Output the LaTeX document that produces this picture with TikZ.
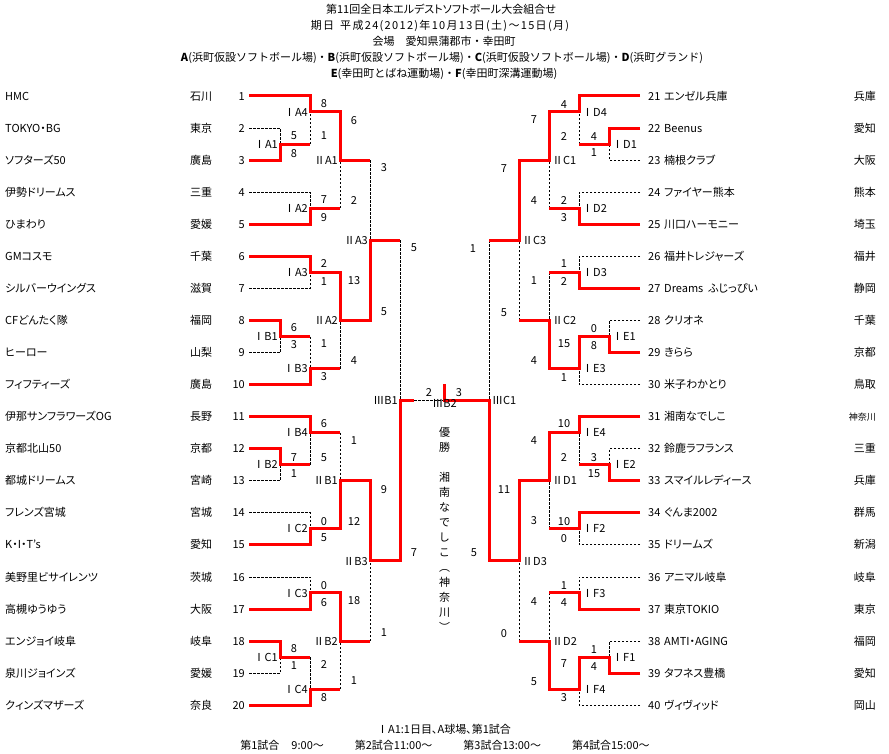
\documentclass[tikz,border=0pt]{standalone}
\usepackage{fontspec}
\setmainfont{Noto Sans CJK JP}[RawFeature=+palt]
\newfontfamily\widefont{Noto Sans CJK JP}
\newfontfamily\spacedfont{Noto Sans CJK JP}[LetterSpace=12]
\definecolor{winred}{RGB}{255,0,0}
\tikzset{
  win/.style={draw=winred, line width=3pt, line join=miter},
  lose/.style={draw=black, line width=0.8pt, dash pattern=on 2.5pt off 1.5pt},
  txt/.style={inner sep=0pt, text height=9.7pt, text depth=1.5pt, font=\fontsize{11}{13}\selectfont},
  wtxt/.style={inner sep=0pt, text height=9.7pt, text depth=1.5pt, font=\widefont\fontsize{11}{13}\selectfont},
  stxt/.style={inner sep=0pt, text height=9.7pt, text depth=1.5pt, font=\spacedfont\fontsize{11}{13}\selectfont},
  sc/.style={txt},
  lbl/.style={txt},
}
\begin{document}
\begin{tikzpicture}[x=1pt,y=-1pt]
\fill[white] (0,0) rectangle (889,754);
\useasboundingbox (0,0) rectangle (889,754);

% team line ends
\foreach \y [count=\i] in {96,128.1,160.1,192.2,224.2,256.3,288.4,320.4,352.5,384.5,416.6,448.7,480.7,512.8,544.8,576.9,609,641,673.1,705.1}{
  \coordinate (T\i) at (249,\y);
  \pgfmathtruncatemacro\j{\i+20}
  \coordinate (T\j) at (640,\y);
}
% match junctions, left
\coordinate (IA1) at (280,144.1);
\coordinate (IA4) at (310,112);
\coordinate (IA2) at (310,208.2);
\coordinate (IIA1) at (340,160.1);
\coordinate (IA3) at (310,272.3);
\coordinate (IB1) at (280,336.5);
\coordinate (IB3) at (310,368.5);
\coordinate (IIA2) at (340,320.4);
\coordinate (IIA3) at (370,240.3);
\coordinate (IB2) at (280,464.7);
\coordinate (IB4) at (310,432.6);
\coordinate (IC2) at (310,528.8);
\coordinate (IIB1) at (340,480.7);
\coordinate (IC3) at (310,592.9);
\coordinate (IC1) at (280,657);
\coordinate (IC4) at (310,689.1);
\coordinate (IIB2) at (340,641);
\coordinate (IIB3) at (370,560.9);
\coordinate (IIIB1) at (400,400.6);
\coordinate (FIN) at (444.5,400.6);
\coordinate (FL) at (414,400.6);
\coordinate (FTOP) at (444.5,384);
% right
\coordinate (ID1) at (609,144.1);
\coordinate (ID4) at (579,112);
\coordinate (ID2) at (579,208.2);
\coordinate (IIC1) at (549,160.1);
\coordinate (ID3) at (579,272.3);
\coordinate (IE1) at (609,336.5);
\coordinate (IE3) at (579,368.5);
\coordinate (IIC2) at (549,320.4);
\coordinate (IIC3) at (519,240.3);
\coordinate (IE2) at (609,464.7);
\coordinate (IE4) at (579,432.6);
\coordinate (IF2) at (579,528.8);
\coordinate (IID1) at (549,480.7);
\coordinate (IF3) at (579,592.9);
\coordinate (IF1) at (609,657);
\coordinate (IF4) at (579,689.1);
\coordinate (IID2) at (549,641);
\coordinate (IID3) at (519,560.9);
\coordinate (IIIC1) at (489,400.6);

% losers (dashed)
\draw[lose] (T2) -| (IA1);
\draw[lose] (IA4 |- IA1) -- (IA4);
\draw[lose] (T4) -| (IA2);
\draw[lose] (IIA1 |- IA2) -- (IIA1);
\draw[lose] (IIIB1 |- IIA3) -- (IIIB1);
\draw[lose] (T7) -| (IA3);
\draw[lose] (IB3 |- IB1) -- (IB3);
\draw[lose] (T9) -| (IB1);
\draw[lose] (IIA2 |- IB3) -- (IIA2);
\draw[lose] (IIA3 |- IIA1) -- (IIA3);
\draw[lose] (IIB1 |- IB4) -- (IIB1);
\draw[lose] (IB4 |- IB2) -- (IB4);
\draw[lose] (T13) -| (IB2);
\draw[lose] (T14) -| (IC2);
\draw[lose] (FL) -- (FIN);
\draw[lose] (T16) -| (IC3);
\draw[lose] (IIB3 |- IIB2) -- (IIB3);
\draw[lose] (IC4 |- IC1) -- (IC4);
\draw[lose] (T19) -| (IC1);
\draw[lose] (IIB2 |- IC4) -- (IIB2);
\draw[lose] (IIIC1 |- IIC3) -- (IIIC1);
\draw[lose] (ID4 |- ID1) -- (ID4);
\draw[lose] (T23) -| (ID1);
\draw[lose] (T24) -| (ID2);
\draw[lose] (IIC1 |- ID2) -- (IIC1);
\draw[lose] (T26) -| (ID3);
\draw[lose] (IIC2 |- ID3) -- (IIC2);
\draw[lose] (T28) -| (IE1);
\draw[lose] (IIC3 |- IIC2) -- (IIC3);
\draw[lose] (T30) -| (IE3);
\draw[lose] (T32) -| (IE2);
\draw[lose] (IE4 |- IE2) -- (IE4);
\draw[lose] (IID1 |- IF2) -- (IID1);
\draw[lose] (T35) -| (IF2);
\draw[lose] (T36) -| (IF3);
\draw[lose] (IID2 |- IF3) -- (IID2);
\draw[lose] (T38) -| (IF1);
\draw[lose] (IID3 |- IID2) -- (IID3);
\draw[lose] (T40) -| (IF4);

% winners (red)
\draw[win] (T1) -| (IA4) -| (IIA1) -- (IIA3 |- IIA1);
\draw[win] (T3) -| (IA1) -- (IA4 |- IA1);
\draw[win] (T5) -| (IA2) -- (IIA1 |- IA2);
\draw[win] (T6) -| (IA3) -| (IIA2) -| (IIA3) -- (IIIB1 |- IIA3);
\draw[win] (T8) -| (IB1) -- (IB3 |- IB1);
\draw[win] (T10) -| (IB3) -- (IIA2 |- IB3);
\draw[win] (T11) -| (IB4) -- (IIB1 |- IB4);
\draw[win] (T12) -| (IB2) -- (IB4 |- IB2);
\draw[win] (T15) -| (IC2) -| (IIB1) -| (IIB3) -| (IIIB1) -- (FL);
\draw[win] (T17) -| (IC3) -| (IIB2) -- (IIB3 |- IIB2);
\draw[win] (T18) -| (IC1) -- (IC4 |- IC1);
\draw[win] (T20) -| (IC4) -- (IIB2 |- IC4);
\draw[win] (T21) -| (ID4) -| (IIC1) -| (IIC3) -- (IIIC1 |- IIC3);
\draw[win] (T22) -| (ID1) -- (ID4 |- ID1);
\draw[win] (T25) -| (ID2) -- (IIC1 |- ID2);
\draw[win] (T27) -| (ID3) -- (IIC2 |- ID3);
\draw[win] (T29) -| (IE1) -| (IE3) -| (IIC2) -- (IIC3 |- IIC2);
\draw[win] (T31) -| (IE4) -| (IID1) -| (IID3) -| (IIIC1) -| (FTOP);
\draw[win] (T33) -| (IE2) -- (IE4 |- IE2);
\draw[win] (T34) -| (IF2) -- (IID1 |- IF2);
\draw[win] (T37) -| (IF3) -- (IID2 |- IF3);
\draw[win] (T39) -| (IF1) -| (IF4) -| (IID2) -- (IID3 |- IID2);

% team texts, left
\foreach \nm/\pf [count=\i] in {
HMC/石川,
TOKYO・BG/東京,
ソフターズ50/廣島,
伊勢ドリームス/三重,
ひまわり/愛媛,
GMコスモ/千葉,
シルバーウイングス/滋賀,
CFどんたく隊/福岡,
ヒーロー/山梨,
フィフティーズ/廣島,
伊那サンフラワーズOG/長野,
京都北山50/京都,
都城ドリームス/宮崎,
フレンズ宮城/宮城,
K・I・T’s/愛知,
美野里ビサイレンツ/茨城,
高槻ゆうゆう/大阪,
エンジョイ岐阜/岐阜,
泉川ジョインズ/愛媛,
クィンズマザーズ/奈良}{
  \node[txt,anchor=west] (name\i) at ([xshift=-244pt]T\i) {\nm};
  \node[txt,anchor=west] (pref\i) at ([xshift=-59pt]T\i) {\pf};
  \node[txt,anchor=east] (num\i) at ([xshift=-4pt]T\i) {\i};
}
% team texts, right
\foreach \nm/\pf [count=\k] in {
エンゼル兵庫/兵庫,
Beenus/愛知,
楠根クラブ/大阪,
ファイヤー熊本/熊本,
川口ハーモニー/埼玉,
福井トレジャーズ/福井,
Dreams\ \ ふじっぴい/静岡,
クリオネ/千葉,
きらら/京都,
米子わかとり/鳥取,
湘南なでしこ/{\fontsize{9}{11}\selectfont 神奈川},
鈴鹿ラフランス/三重,
スマイルレディース/兵庫,
ぐんま2002/群馬,
ドリームズ/新潟,
アニマル岐阜/岐阜,
東京TOKIO/東京,
AMTI・AGING/福岡,
タフネス豊橋/愛知,
ヴィヴィッド/岡山}{
  \pgfmathtruncatemacro\i{\k+20}
  \node[txt,anchor=west] (num\i) at ([xshift=8pt]T\i) {\i};
  \node[txt,anchor=west] (name\i) at ([xshift=24pt]T\i) {\nm};
  \node[txt,anchor=east] (pref\i) at ([xshift=236pt]T\i) {\pf};
}

% match labels
\foreach \m/\t in {IA1/ⅠA1,IA4/ⅠA4,IA2/ⅠA2,IIA1/ⅡA1,IA3/ⅠA3,IB1/ⅠB1,IB3/ⅠB3,IIA2/ⅡA2,IIA3/ⅡA3,IB2/ⅠB2,IB4/ⅠB4,IC2/ⅠC2,IIB1/ⅡB1,IC3/ⅠC3,IC1/ⅠC1,IC4/ⅠC4,IIB2/ⅡB2,IIB3/ⅡB3,IIIB1/ⅢB1}
  \node[lbl,anchor=east] (L\m) at ([xshift=-2pt]\m) {\t};
\foreach \m/\t in {ID1/ⅠD1,ID4/ⅠD4,ID2/ⅠD2,IIC1/ⅡC1,ID3/ⅠD3,IE1/ⅠE1,IE3/ⅠE3,IIC2/ⅡC2,IIC3/ⅡC3,IE2/ⅠE2,IE4/ⅠE4,IF2/ⅠF2,IID1/ⅡD1,IF3/ⅠF3,IF1/ⅠF1,IF4/ⅠF4,IID2/ⅡD2,IID3/ⅡD3,IIIC1/ⅢC1}
  \node[lbl,anchor=west] (L\m) at ([xshift=3pt]\m) {\t};
\node[lbl,anchor=north] (LFIN) at ([yshift=3.5pt]FIN) {ⅢB2};

% scores
\foreach \x/\y/\t [count=\n] in {
294/135/5, 294/153/8, 324/103/8, 324/135/1, 324/199/7, 324/217/9,
354/120/6, 354/200/2, 324/263/2, 324/281/1, 354/280/13, 354/360/4,
384/167/3, 384/311/5, 414/247/5, 414/552/7, 294/327/6, 294/344/3,
324/343/1, 324/376/3, 324/423/6, 324/457/5, 294/457/7, 294/473/1,
354/440/1, 354/521/12, 324/521/0, 324/537/5, 384/489/9, 384/632/1,
324/585/0, 324/602/6, 354/600/18, 354/680/1, 294/648/8, 294/665/1,
324/664/2, 324/697/8, 429/392/2, 459/392/3,
564/104/4, 564/136/2, 594/136/4, 594/152/1, 534/119/7, 534/200/4,
504/168/7, 504/312/5, 564/200/2, 564/217/3, 473/248/1, 474/552/5,
564/263/1, 564/281/2, 534/280/1, 534/360/4, 594/328/0, 594/345/8,
564/343/15, 564/377/1, 564/423/10, 564/457/2, 534/440/4, 534/520/3,
594/457/3, 594/473/15, 504/489/11, 504/633/0, 564/521/10, 564/538/0,
564/585/1, 564/602/4, 534/601/4, 534/681/5, 594/649/1, 594/666/4,
564/663/7, 564/697/3}
  \node[sc] (s\n) at (\x,\y) {\t};

% champion (vertical)
\foreach \c [count=\i] in {優,勝,{},湘,南,な,で,し,こ,︵,神,奈,川,︶}
  \node[txt] (v\i) at (444.5,{432+15*(\i-1)}) {\c};

% titles
\node[txt] (title1) at (441,9) {第11回全日本エルデストソフトボール大会組合せ};
\node[stxt] (title2) at (440,25) {期日\hspace{6pt}平成24(2012)年10月13日(土)～15日(月)};
\node[wtxt] (title3) at (444,41) {会場　愛知県蒲郡市・幸田町};
\node[wtxt] (title4) at (442,57) {\textbf{A}(浜町仮設ソフトボール場)・\textbf{B}(浜町仮設ソフトボール場)・\textbf{C}(浜町仮設ソフトボール場)・\textbf{D}(浜町グランド)};
\node[wtxt] (title5) at (444,73) {\textbf{E}(幸田町とばね運動場)・\textbf{F}(幸田町深溝運動場)};
\node[txt] (note1) at (444,729) {ⅠA1:1日目、A球場、第1試合};
\node[wtxt] (note2) at (445,745) {第1試合\hspace{12pt}9:00～\hspace{31pt}第2試合11:00～\hspace{31pt}第3試合13:00～\hspace{31pt}第4試合15:00～};
\end{tikzpicture}
\end{document}
